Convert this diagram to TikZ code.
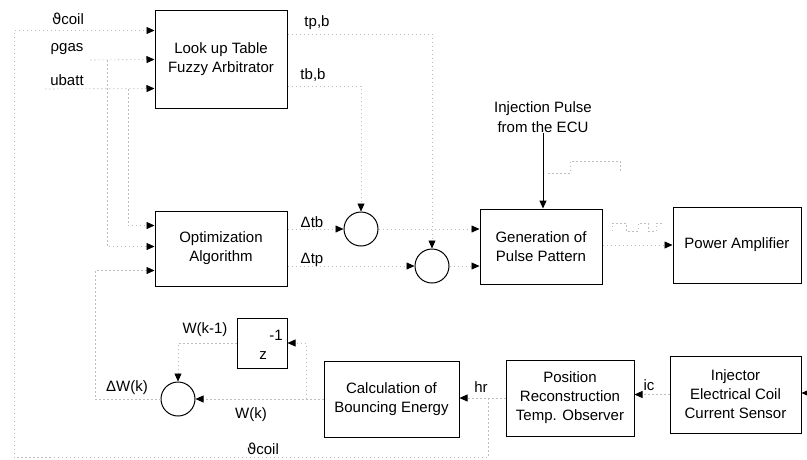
\documentclass[tikz,border=0pt]{standalone}
\usepackage{fontspec}
\setmainfont{Liberation Sans}
\newfontfamily\thetafont{DejaVu Sans}
\usetikzlibrary{arrows.meta, calc}
\definecolor{mWire}{HTML}{BDBDBD}
\newcommand{\lblfont}{\fontsize{15}{19}\selectfont}
\newcommand{\thcoil}{{\thetafont ϑ}coil}
\tikzset{
  blk/.style={draw, line width=1pt, inner sep=0pt, align=center, font=\lblfont},
  sumnode/.style={draw, circle, line width=1pt, minimum size=34pt, inner sep=0pt},
  sig/.style={font=\lblfont, inner sep=0pt},
  wire/.style={mWire, line width=0.6pt, dash pattern=on 1.5pt off 2.5pt,
               -{Triangle[color=black, length=8pt, width=7pt]}},
  pline/.style={mWire, line width=0.6pt, dash pattern=on 1.5pt off 2.5pt},
}

\begin{document}
\begin{tikzpicture}[x=1pt, y=-1pt]
    \useasboundingbox (0,0) rectangle (807,459);
    % blocks
    \node[blk, minimum width=132pt, minimum height=98pt] (lut)  at (221,59)    {Look up Table\\Fuzzy Arbitrator};
    \node[blk, minimum width=132pt, minimum height=75pt] (opt)  at (221,248.5) {Optimization\\Algorithm};
    \node[blk, minimum width=122pt, minimum height=75pt] (gen)  at (541,246.5) {Generation of\\Pulse Pattern};
    \node[blk, minimum width=128pt, minimum height=76pt] (pamp) at (737,245)   {Power Amplifier};
    \node[blk, minimum width=50pt,  minimum height=50pt] (zdel) at (262,343)   {};
    \node[blk, minimum width=135pt, minimum height=76pt] (calc) at (391.5,399) {Calculation of\\Bouncing Energy};
    \node[blk, minimum width=128pt, minimum height=76pt] (pos)  at (570,398)   {Position\\Reconstruction\\Temp. Observer};
    \node[blk, minimum width=131pt, minimum height=77pt] (inj)  at (735.5,394.5) {Injector\\Electrical Coil\\Current Sensor};
    \node[sumnode] (sum1) at (361,229) {};
    \node[sumnode] (sum2) at (432,266) {};
    \node[sumnode] (sum3) at (178,399) {};
    % signal labels
    \node[sig] (thtop) at (68,19)  {\thcoil};
    \node[sig] (rho)   at (67,49)  {ρgas};
    \node[sig] (ubat)  at (67,80)  {ubatt};
    \node[sig] (tpb)   at (317,23) {tp,b};
    \node[sig] (tbb)   at (313,75) {tb,b};
    \node[sig] (dtb)   at (312,222) {Δtb};
    \node[sig] (dtp)   at (312,260) {Δtp};
    \node[sig, align=center, font=\fontsize{15}{20}\selectfont] (ecu) at (543,117) {Injection Pulse\\from the ECU};
    \node[sig] (wkm)   at (205,330) {W(k-1)};
    \node[sig] (dwk)   at (127,388) {ΔW(k)};
    \node[sig] (wk)    at (251,415) {W(k)};
    \node[sig] (thbot) at (263,449) {\thcoil};
    \node[sig] (hr)    at (481,387) {hr};
    \node[sig] (ic)    at (649,385) {ic};
    \node[sig] (zexp)  at (276,335) {-1};
    \node[sig] (zvar)  at (263,356) {z};
    % ports and corners
    \coordinate (lutA) at ($(lut.north west)+(0,21)$);
    \coordinate (lutB) at ($(lut.north west)+(0,50)$);
    \coordinate (lutC) at ($(lut.north west)+(0,79)$);
    \coordinate (optA) at ($(opt.north west)+(0,15)$);
    \coordinate (optB) at ($(opt.north west)+(0,36)$);
    \coordinate (optC) at ($(opt.north west)+(0,60)$);
    \coordinate (hrJ)  at (488,398);
    \coordinate (thC)  at (14,457);
    \coordinate (rhoS) at (90,60);
    \coordinate (rhoJ) at (107,60);
    \coordinate (ubS)  at (45,89);
    \coordinate (ubJ)  at (128,89);
    \coordinate (dwJ)  at (95,399);
    \coordinate (tpJ)  at (432,34);
    \coordinate (tbJ)  at (361,86);
    \coordinate (injS) at (807,393);
    \coordinate (wkJ)  at (306,399);
    % connectors
    \draw[wire] (hrJ) -- (hrJ |- thC) -- (thC) |- (lutA);
    \draw[wire] (rhoS) -- (lutB);
    \draw[wire] (rhoJ) |- (optB);
    \draw[wire] (ubS) -- (lutC);
    \draw[wire] (ubJ) |- (optA);
    \draw[wire] (sum3.west) -- (dwJ) |- (optC);
    \draw[wire] (lut.east |- tpJ) -- (tpJ) -- (sum2.north);
    \draw[wire] (lut.east |- tbJ) -- (tbJ) -- (sum1.north);
    \draw[wire] (opt.east |- sum1.west) -- (sum1.west);
    \draw[wire] (opt.east |- sum2.west) -- (sum2.west);
    \draw[wire] (sum1.east) -- (gen.west |- sum1.east);
    \draw[wire] (sum2.east) -- (gen.west |- sum2.east);
    \draw[line width=1pt, -{Triangle[length=8pt, width=7pt]}] (ecu.south) -- (ecu.south |- gen.north);
    \draw[wire] (gen.east |- pamp.west) -- (pamp.west);
    \draw[wire] (injS) -- (inj.east |- injS);
    \draw[wire] (inj.west) -- (inj.west -| pos.east);
    \draw[wire] (pos.west) -- (pos.west -| calc.east);
    \draw[wire] (calc.west) -- (sum3.east);
    \draw[wire] (wkJ) |- (zdel.east);
    \draw[wire] (zdel.west) -- (zdel.west -| sum3.north) -- (sum3.north);
    % pulse sketches
    \draw[pline] (548,173) -- (570,173) -- (570,161) -- (620,161) -- (620,173);
    \draw[pline] (612,231) -- (612,223) -- (626,223) -- (626,231) -- (638,231)
                 -- (638,223) -- (648,223) -- (648,231) -- (656,231) -- (656,223) -- (664,223);
\end{tikzpicture}
\end{document}
